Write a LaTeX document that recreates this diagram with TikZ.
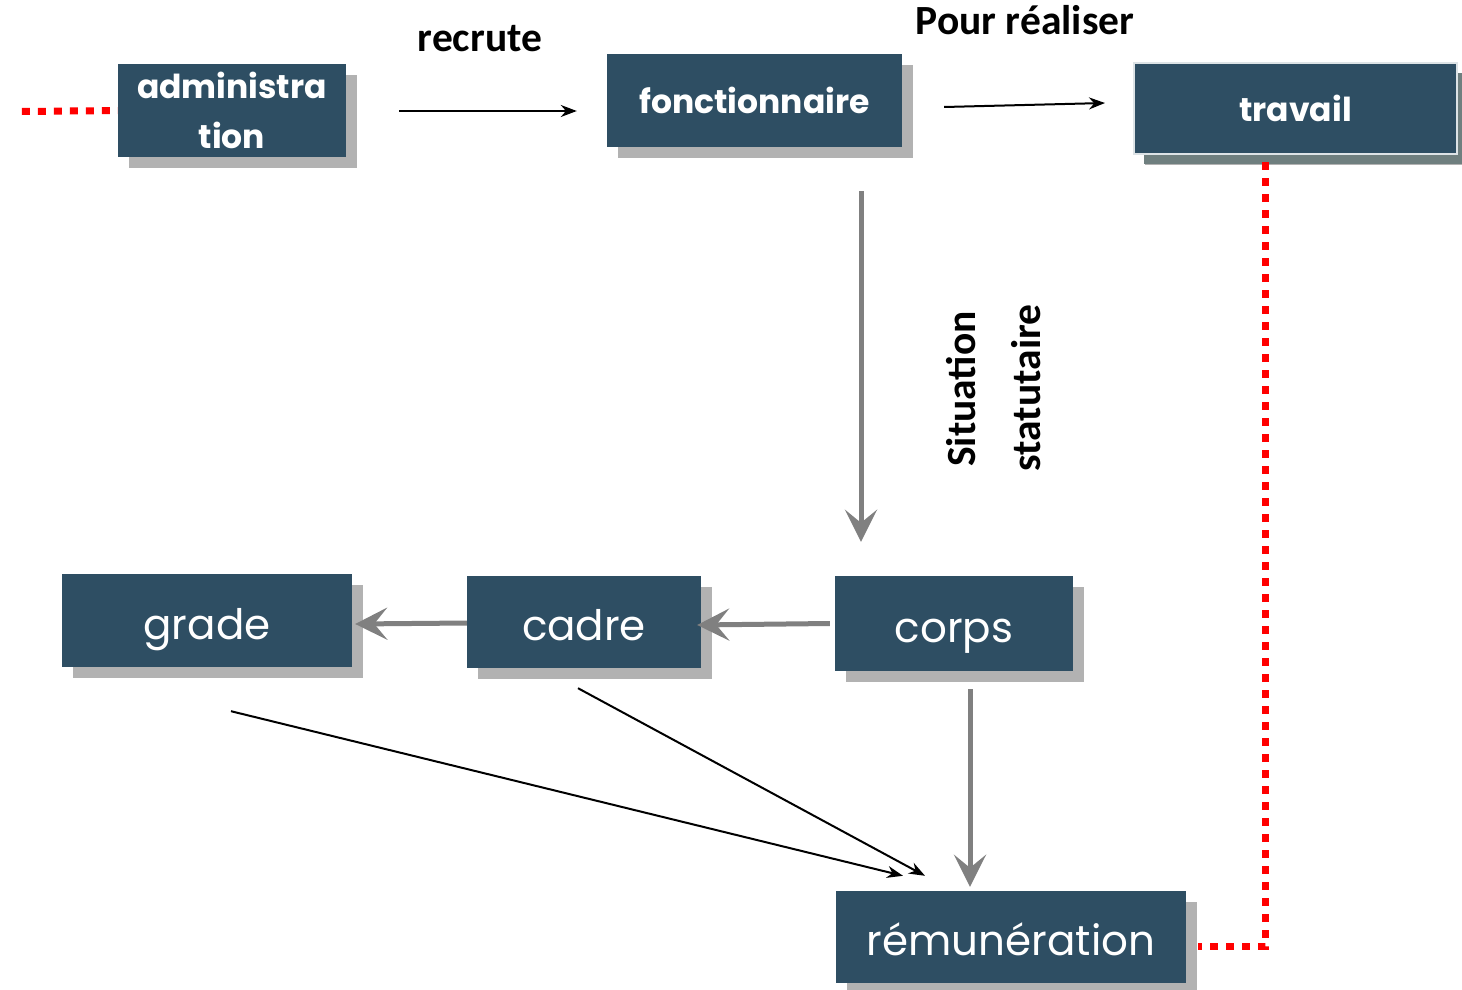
\documentclass[tikz,border=0pt]{standalone}
\usepackage{fontspec}
\setmainfont{Poppins}
\newfontfamily\lblfont{Carlito}
\usetikzlibrary{arrows.meta,calc,shadows}
\definecolor{boxblue}{HTML}{2E4E63}
\definecolor{shadowgray}{HTML}{B2B2B2}
\definecolor{travshadow}{HTML}{6F7F7F}
\definecolor{travborder}{HTML}{DDE3E6}
\definecolor{arrowgray}{HTML}{808080}
\begin{document}
\begin{tikzpicture}[x=1pt,y=-1pt,
  box/.style={fill=boxblue,text=white,inner sep=0pt,align=center,
    drop shadow={shadow xshift=10.5pt,shadow yshift=-11pt,fill=shadowgray,opacity=1}},
  bbold/.style={font=\fontsize{33}{50}\selectfont\bfseries},
  breg/.style={font=\fontsize{42}{50}\selectfont,text height=45pt,text depth=8pt},
  lab/.style={font=\lblfont\bfseries\fontsize{41.5}{44}\selectfont,text=black},
  blk/.style={-{Stealth[length=16pt,width=12pt]},line width=2pt,black},
  gry/.style={-{Stealth[length=32pt,width=32pt,inset=13pt]},line width=5pt,arrowgray},
  reddot/.style={draw=red,line width=7pt,dash pattern=on 8pt off 8pt}
]
\useasboundingbox (0,0) rectangle (1462,990);

% boxes
\node[box,bbold,minimum width=228pt,minimum height=93pt] (admin) at (232,110.5) {administra\\tion};
\node[box,bbold,minimum width=295pt,minimum height=93pt] (fonc) at (754.5,100.5) {fonctionnaire};
\node[box,bbold,minimum width=323pt,minimum height=91pt,draw=travborder,line width=2pt,
  drop shadow={shadow xshift=10pt,shadow yshift=-10pt,fill=travshadow,opacity=1}] (trav) at (1295.5,108.5) {travail};
\node[box,breg,minimum width=290pt,minimum height=93pt] (grade) at (207,620.5) {grade};
\node[box,breg,minimum width=234pt,minimum height=92pt] (cadre) at (584,622) {cadre};
\node[box,breg,minimum width=238pt,minimum height=95pt] (corps) at (954,623.5) {corps};
\node[box,breg,minimum width=350pt,minimum height=92pt] (remu) at (1011,937) {rémunération};

% labels
\node[lab,anchor=base] (lblrec) at (480,52) {recrute};
\node[lab,anchor=base] (lblpour) at (1025,35) {Pour réaliser};
\node[lab,anchor=base,rotate=90] (lblsit) at (975,389) {Situation};
\node[lab,anchor=base,rotate=90] (lblstat) at (1040,388) {statutaire};

% red dotted links
\draw[reddot] ($(admin.west)+(-96,1)$) -- (admin.west);
\draw[reddot] ($(trav.south)+(-30,7)$) |- ($(remu.east)+(12,9)$);

% black arrows
\draw[blk] ($(admin.east)+(53,0.5)$) -- ($(fonc.west)+(-30,10.5)$);
\draw[blk] ($(fonc.east)+(42,6.5)$) -- ($(trav.west)+(-28,-5.5)$);
\draw[blk] ($(grade.south)+(24,44)$) -- ($(remu.north)+(-108,-15)$);
\draw[blk] ($(cadre.south)+(-6,20)$) -- ($(remu.north)+(-86,-15)$);

% gray arrows
\draw[gry] ($(fonc.south)+(106.5,44)$) -- ($(corps.north)+(-93,-34)$);
\draw[gry] ($(corps.west)+(-5,0)$) -- ($(cadre.east)+(-4,3)$);
\draw[gry] ($(cadre.west)+(0,1)$) -- ($(grade.east)+(3,3.5)$);
\draw[gry] ($(corps.south)+(16,18)$) -- ($(remu.north)+(-41,-4)$);
\end{tikzpicture}
\end{document}
